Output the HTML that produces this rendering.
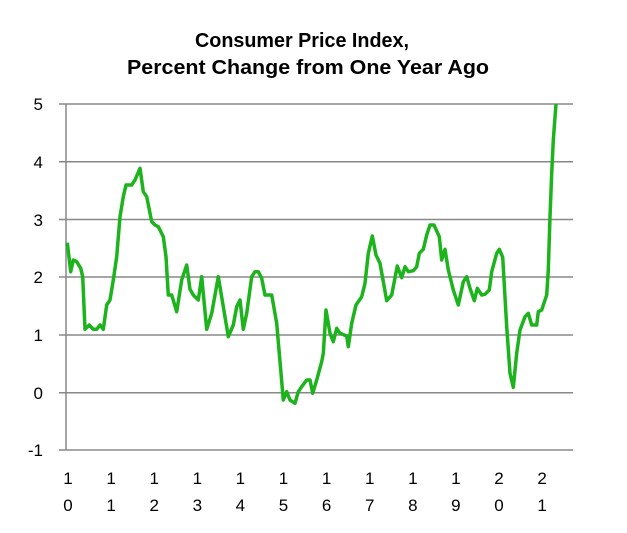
<!DOCTYPE html>
<html><head><meta charset="utf-8"><style>
html,body{margin:0;padding:0;background:#fff;}
svg{display:block;font-family:"Liberation Sans",sans-serif;}
</style></head><body>
<svg id="s" width="627" height="533" viewBox="0 0 627 533">
<text x="302" y="47" text-anchor="middle" font-size="20" font-weight="bold" fill="#000" textLength="214" lengthAdjust="spacingAndGlyphs">Consumer Price Index,</text>
<text x="308" y="74" text-anchor="middle" font-size="20" font-weight="bold" fill="#000" textLength="362" lengthAdjust="spacingAndGlyphs">Percent Change from One Year Ago</text>
<g stroke="#888" stroke-width="1.5">
<line x1="59" x2="573" y1="104" y2="104"/>
<line x1="59" x2="573" y1="161.7" y2="161.7"/>
<line x1="59" x2="573" y1="219.5" y2="219.5"/>
<line x1="59" x2="573" y1="277" y2="277"/>
<line x1="59" x2="573" y1="335" y2="335"/>
<line x1="59" x2="573" y1="392.7" y2="392.7"/>
<line x1="59" x2="573" y1="450" y2="450"/>
<line x1="66" x2="66" y1="104" y2="450"/>
</g>
<g font-size="17" fill="#000" text-anchor="end">
<text x="43" y="110">5</text><text x="43" y="168">4</text><text x="43" y="226">3</text>
<text x="43" y="283">2</text><text x="43" y="341">1</text><text x="43" y="399">0</text><text x="43" y="456">-1</text>
</g>
<g id="xl" font-size="17" fill="#000" text-anchor="middle"></g>
<polyline id="ln" fill="none" stroke="#1db31d" stroke-width="3.5" stroke-linejoin="round" points=""/>
</svg>
<script>
var a=[[82,458],[92,545],[100,510],[110,515],[122,535],[128,560],[135,718],[148,705],[160,718],[170,718],[180,705],[190,718],[200,645],[210,630],[220,570],[230,500],[240,380],[250,320],[258,285],[275,285],[285,270],[300,235],[310,305],[320,320],[335,395],[345,405],[355,410],[370,440],[378,500],[385,615],[395,615],[410,665],[425,570],[440,525],[450,598],[460,615],[475,630],[485,560],[500,718],[515,670],[535,560],[565,740],[580,705],[590,650],[600,630],[610,718],[620,670],[635,560],[645,545],[655,545],[665,565],[675,615],[695,615],[710,700],[730,930],[740,905],[750,930],[765,940],[775,905],[785,890],[800,870],[810,870],[818,910],[830,870],[845,815],[850,790],[858,660],[870,730],[880,755],[890,715],[900,730]];
var b=[[140,738],[145,770],[155,700],[168,645],[185,620],[195,580],[205,490],[217,438],[228,495],[240,520],[260,632],[275,615],[292,528],[305,563],[315,530],[325,545],[340,542],[350,530],[358,490],[370,478],[380,435],[390,405],[402,405],[418,440],[425,510],[435,478],[445,540],[460,600],[475,645],[490,575],[500,560],[510,595],[523,632],[532,595],[545,615],[555,613],[568,600],[575,545],[590,490],[598,478],[608,502],[620,710],[630,850],[640,892],[650,790],[660,720],[675,680],[685,670],[695,705],[710,705],[715,665],[725,660],[740,615],[745,540],[750,380],[755,250],[760,150],[768,42]];
var p=[];
a.forEach(function(q){p.push((40+q[0]/3).toFixed(1)+","+(90+q[1]/3).toFixed(1));});
b.forEach(function(q){p.push((300+q[0]/3).toFixed(1)+","+(90+q[1]/3).toFixed(1));});
document.getElementById("ln").setAttribute("points",p.join(" "));
var l=[["1","0"],["1","1"],["1","2"],["1","3"],["1","4"],["1","5"],["1","6"],["1","7"],["1","8"],["1","9"],["2","0"],["2","1"]];
var g=document.getElementById("xl"),h="";
l.forEach(function(t,i){var x=(68+i*43.1).toFixed(1);h+='<text x="'+x+'" y="484">'+t[0]+'</text><text x="'+x+'" y="511">'+t[1]+'</text>';});
g.innerHTML=h;
</script>
</body></html>
